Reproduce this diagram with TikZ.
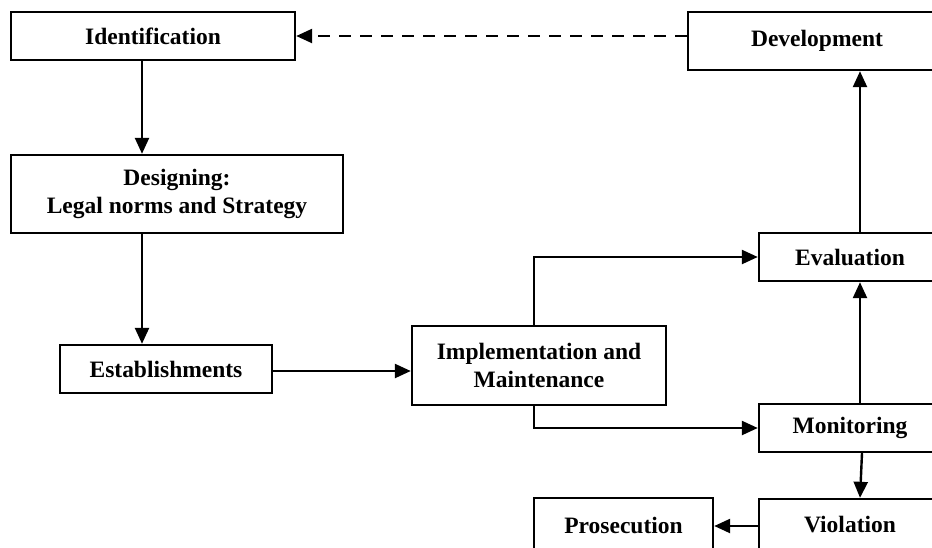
\documentclass[tikz,border=0pt]{standalone}
\usepackage{fontspec}
\setmainfont{Liberation Serif}
\usetikzlibrary{arrows.meta}
\begin{document}
\begin{tikzpicture}[x=1pt,y=-1pt,
  box/.style={draw,line width=2.4pt,rectangle,inner sep=0pt,align=center,
    font=\fontsize{23.5}{28}\selectfont\bfseries},
  conn/.style={line width=2.4pt,-{Triangle[length=16pt,width=14pt]}},
  dconn/.style={conn,dash pattern=on 12pt off 9pt}]
\useasboundingbox (0,0) rectangle (932,547);
\clip (0,0) rectangle (932,547);
\fill[white] (0,0) rectangle (932,547);
\node[box,minimum width=284pt,minimum height=48pt] (ident) at (153,36) {Identification};
\node[box,minimum width=258pt,minimum height=58pt] (dev) at (817,41) {Development};
\node[box,minimum width=332pt,minimum height=78pt] (design) at (177,194) {Designing:\\Legal norms and Strategy};
\node[box,minimum width=212pt,minimum height=48pt] (estab) at (166,369) {Establishments};
\node[box,minimum width=254pt,minimum height=79pt] (impl) at (539,365.5) {Implementation and\\Maintenance};
\node[box,minimum width=182pt,minimum height=48pt] (eval) at (850,257) {Evaluation};
\node[box,minimum width=182pt,minimum height=48pt] (monit) at (850,428) {Monitoring};
\node[box,minimum width=182pt,minimum height=52pt] (viol) at (850,525) {Violation};
\node[box,minimum width=179pt,minimum height=54pt] (pros) at (623.5,525) {Prosecution};
\coordinate (cl) at (142,0);
\coordinate (cm) at (534,0);
\coordinate (cr) at (860,0);
\coordinate (cv) at (862,0);
\coordinate (ca) at (0,371);
\coordinate (cp) at (0,526);
\draw[conn] (ident.south -| cl) -- (design.north -| cl);
\draw[conn] (design.south -| cl) -- (estab.north -| cl);
\draw[conn] (estab.east |- ca) -- (impl.west |- ca);
\draw[conn] (impl.north -| cm) |- (eval.west);
\draw[conn] (impl.south -| cm) |- (monit.west);
\draw[conn] (monit.north -| cr) -- (eval.south -| cr);
\draw[conn] (eval.north -| cr) -- (dev.south -| cr);
\draw[conn] (monit.south -| cv) -- (viol.north -| cr);
\draw[conn] (viol.west |- cp) -- (pros.east |- cp);
\draw[dconn] (dev.west |- ident.east) -- (ident.east);
\end{tikzpicture}
\end{document}
